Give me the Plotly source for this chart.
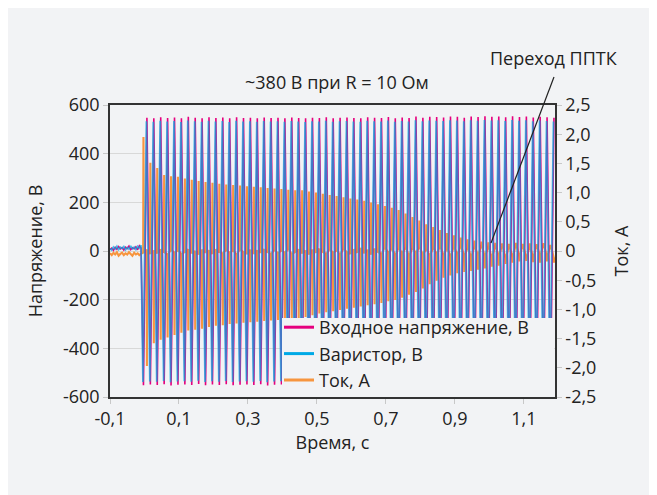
import plotly.graph_objects as go

# ---------------- data ----------------
# pre-trigger noise, t < 0
pre_t = [-0.100, -0.095, -0.090, -0.085, -0.080, -0.075, -0.070, -0.065, -0.060, -0.055,
         -0.050, -0.045, -0.040, -0.035, -0.030, -0.025, -0.020, -0.015, -0.010]
pre_input = [6, 12, 3, 15, 7, 18, 9, 14, 4, 16, 10, 20, 6, 13, 9, 17, 5, 21, 12]
pre_varistor = [10, 4, 16, 8, 19, 6, 15, 10, 18, 5, 14, 8, 21, 9, 16, 6, 19, 11, 24]
pre_current = [-0.04, -0.07, -0.03, -0.06, -0.02, -0.08, -0.05, -0.03, -0.07, -0.04,
               -0.06, -0.02, -0.05, -0.08, -0.03, -0.06, -0.04, -0.07, -0.05]

# half-cycle peak times (50 Hz -> every 10 ms), first half-cycle at ~ -3 ms
first_peak_t = -0.003
half_period = 0.010

# Input voltage peaks, V (alternating, starting negative)
input_peaks = [
    -552, 548, -549, 546, -551, 550, -548, 547, -553, 549,
    -550, 545, -549, 552, -551, 548, -547, 546, -552, 550,
    -549, 547, -551, 549, -548, 545, -552, 550, -550, 547,
    -549, 548, -551, 546, -548, 549, -553, 547, -550, 548,
    -549, 546, -551, 549, -548, 547, -552, 545, -550, 548,
    -549, 547, -551, 550, -548, 546, -552, 548, -550, 549,
    -548, 547, -551, 546, -549, 550, -552, 548, -550, 547,
    -549, 551, -548, 546, -552, 549, -550, 547, -551, 553,
    -549, 548, -550, 552, -548, 551, -553, 549, -551, 553,
    -549, 552, -550, 548, -552, 553, -549, 551, -550, 554,
    -551, 552, -549, 553, -552, 550, -550, 554, -553, 551,
    -551, 553, -550, 549, -554, 552, -556, 550, -565, 548,
]
# Varistor voltage peaks, V
varistor_peaks = [
    -538, 533, -536, 531, -537, 535, -534, 532, -539, 534,
    -536, 530, -535, 536, -537, 533, -533, 531, -538, 535,
    -535, 532, -537, 534, -534, 530, -538, 535, -536, 532,
    -535, 533, -537, 531, -534, 534, -539, 532, -536, 533,
    -535, 531, -537, 534, -534, 532, -538, 530, -536, 533,
    -535, 532, -537, 535, -534, 531, -538, 533, -536, 534,
    -534, 532, -537, 531, -535, 535, -538, 533, -536, 532,
    -535, 536, -534, 531, -538, 534, -536, 532, -537, 537,
    -535, 533, -536, 536, -534, 535, -539, 534, -537, 537,
    -535, 536, -536, 533, -538, 537, -535, 535, -536, 538,
    -537, 536, -535, 537, -538, 534, -536, 538, -539, 535,
    -537, 537, -536, 533, -540, 536, -542, 534, -548, 532,
]
# Current peaks, A (one spike per half-cycle, starting positive)
current_peaks = [
    1.95, -1.97, 1.51, -1.58, 1.42, -1.52, 1.30, -1.48, 1.28, -1.44,
    1.27, -1.40, 1.24, -1.36, 1.22, -1.35, 1.20, -1.33, 1.18, -1.30,
    1.17, -1.28, 1.15, -1.27, 1.14, -1.25, 1.13, -1.24, 1.12, -1.23,
    1.11, -1.22, 1.10, -1.21, 1.09, -1.20, 1.08, -1.19, 1.07, -1.18,
    1.06, -1.18, 1.05, -1.17, 1.04, -1.15, 1.04, -1.13, 1.02, -1.10,
    1.00, -1.07, 0.98, -1.05, 0.96, -1.03, 0.94, -1.01, 0.92, -0.99,
    0.90, -0.97, 0.88, -0.95, 0.86, -0.93, 0.83, -0.91, 0.80, -0.89,
    0.77, -0.86, 0.74, -0.84, 0.70, -0.80, 0.64, -0.75, 0.58, -0.70,
    0.52, -0.64, 0.46, -0.57, 0.41, -0.51, 0.36, -0.46, 0.31, -0.42,
    0.27, -0.38, 0.23, -0.36, 0.20, -0.34, 0.18, -0.32, 0.16, -0.30,
    0.15, -0.27, 0.14, -0.25, 0.13, -0.22, 0.12, -0.20, 0.14, -0.18,
    0.12, -0.17, 0.13, -0.19, 0.11, -0.20, 0.12, -0.18, 0.10, -0.20,
]
# Current baseline between spikes, A
current_base = [
    -0.03, 0.02, -0.05, 0.01, -0.04, 0.03, -0.02, -0.06, 0.02, -0.03,
    0.01, -0.05, -0.02, 0.03, -0.04, 0.00, -0.06, 0.02, -0.03, 0.01,
    -0.05, 0.03, -0.02, -0.04, 0.02, -0.03, 0.01, -0.06, 0.03, -0.02,
    -0.04, 0.02, -0.05, 0.01, -0.03, 0.03, -0.02, -0.05, 0.02, -0.04,
    0.01, -0.03, 0.04, -0.05, -0.02, 0.03, -0.04, 0.01, -0.06, 0.02,
    -0.03, 0.04, -0.02, -0.05, 0.03, -0.03, 0.01, -0.06, 0.04, -0.02,
    -0.05, 0.03, -0.03, 0.05, -0.04, 0.02, -0.06, 0.04, -0.02, -0.05,
    0.06, -0.03, 0.04, -0.07, 0.05, -0.04, 0.06, -0.08, 0.05, -0.03,
    0.07, -0.06, 0.04, -0.08, 0.06, -0.05, 0.08, -0.07, 0.05, -0.09,
    0.07, -0.06, 0.09, -0.08, 0.06, -0.10, 0.08, -0.07, 0.10, -0.09,
    0.08, -0.11, 0.09, -0.08, 0.10, -0.12, 0.09, -0.10, 0.11, -0.09,
    0.10, -0.12, 0.08, -0.11, 0.10, -0.09, 0.12, -0.10, 0.09, -0.11,
]

x_ticks = [-0.1, 0.1, 0.3, 0.5, 0.7, 0.9, 1.1]
x_ticktext = ["-0,1", "0,1", "0,3", "0,5", "0,7", "0,9", "1,1"]
v_ticks = [-600, -400, -200, 0, 200, 400, 600]
v_ticktext = ["-600", "-400", "-200", "0", "200", "400", "600"]
i_ticks = [-2.5, -2.0, -1.5, -1.0, -0.5, 0, 0.5, 1.0, 1.5, 2.0, 2.5]
i_ticktext = ["-2,5", "-2,0", "-1,5", "-1,0", "-0,5", "0", "0,5", "1,0", "1,5", "2,0", "2,5"]

names = ["Входное напряжение, В", "Варистор, В", "Ток, А"]
title_text = "~380 В при R = 10 Ом"
note_text = "Переход ППТК"
x_title = "Время, с"
v_title = "Напряжение, В"
i_title = "Ток, А"

# ---------------- build traces ----------------
peak_t = [first_peak_t + half_period * k for k in range(len(input_peaks))]
spike_halfwidth = 0.0009   # current pulses are very narrow
varistor_lag = -0.0015     # small visual offset between the two voltage records

v_x = pre_t + peak_t
vvar_x = pre_t + [t + varistor_lag for t in peak_t]
vin_y = pre_input + input_peaks
vvar_y = pre_varistor + varistor_peaks

c_x = list(pre_t)
c_y = list(pre_current)
for t, p, b in zip(peak_t, current_peaks, current_base):
    c_x += [t - spike_halfwidth, t, t + spike_halfwidth]
    c_y += [b, p, b]

FONT = "Open Sans"
BG = "#f2f3f5"
MAGENTA = "#e5007e"
CYAN = "#00a9e6"
ORANGE = "#f7953f"
TXT = "#222222"
colors = [MAGENTA, CYAN, ORANGE]

fig = go.Figure()
# current on the base axis (right side) so that voltages are drawn over it
fig.add_trace(go.Scatter(x=c_x, y=c_y, mode="lines", name=names[2], yaxis="y",
                         showlegend=False, line=dict(color=ORANGE, width=2.1)))
fig.add_trace(go.Scatter(x=v_x, y=vin_y, mode="lines", name=names[0], yaxis="y2",
                         showlegend=False, line=dict(color=MAGENTA, width=1.6)))
fig.add_trace(go.Scatter(x=vvar_x, y=vvar_y, mode="lines", name=names[1], yaxis="y2",
                         showlegend=False, line=dict(color="rgba(0,169,230,0.7)", width=1.8)))
# legend entries (no data, only the key)
for n, c in zip(names, colors):
    fig.add_trace(go.Scatter(x=[None], y=[None], mode="lines", name=n,
                             line=dict(color=c, width=3)))

# page is shown with an 8 px body margin
OFF = 8
W, H = 657 - OFF, 495 - OFF
L, T = 110 - OFF, 105 - OFF
pw, ph = 445, 292
R, B = W - L - pw, H - T - ph


def px(xp):   # page x -> paper x
    return (xp - OFF - L) / pw


def py(yp):   # page y -> paper y
    return (T + ph - (yp - OFF)) / ph


fig.update_layout(
    width=W, height=H,
    margin=dict(l=L, r=R, t=T, b=B, pad=0),
    paper_bgcolor=BG, plot_bgcolor=BG,
    font=dict(family=FONT, size=18, color=TXT),
    showlegend=True,
    legend=dict(x=px(279), y=py(399), xanchor="left", yanchor="bottom",
                bgcolor="rgba(0,0,0,0)", borderwidth=0,
                font=dict(size=18, color=TXT),
                tracegroupgap=0, itemwidth=30),
    xaxis=dict(range=[-0.1, 1.19], tickvals=x_ticks, ticktext=x_ticktext,
               showgrid=False, zeroline=False, showline=True, linecolor="#333",
               linewidth=1.5, mirror=True, ticks="outside", ticklen=5,
               tickcolor="#c8c8c8", tickfont=dict(size=18),
               title=dict(text=x_title, font=dict(size=18), standoff=6)),
    yaxis=dict(range=[-2.5, 2.5], tickvals=i_ticks, ticktext=i_ticktext,
               side="right", showgrid=False, zeroline=False,
               showline=True, linecolor="#333", linewidth=1.5,
               ticks="outside", ticklen=5, tickcolor="#c8c8c8",
               tickfont=dict(size=18),
               title=dict(text=i_title, font=dict(size=18), standoff=20)),
    yaxis2=dict(range=[-600, 600], tickvals=v_ticks, ticktext=v_ticktext,
                overlaying="y", side="left",
                showgrid=True, gridcolor="#d8d8d8", gridwidth=1, zeroline=False,
                showline=True, linecolor="#333", linewidth=1.5,
                ticks="outside", ticklen=5, tickcolor="#c8c8c8",
                tickfont=dict(size=18),
                title=dict(text=v_title, font=dict(size=18), standoff=16)),
    shapes=[
        # legend panel
        dict(type="rect", xref="paper", yref="paper", layer="above",
             x0=px(282), x1=px(554), y0=py(396), y1=py(318),
             fillcolor=BG, line=dict(width=0)),
        # pointer line of the note
        dict(type="line", xref="paper", yref="paper",
             x0=px(554), y0=py(77), x1=px(491), y1=py(243),
             line=dict(color=TXT, width=1.2)),
    ],
    annotations=[
        dict(text=title_text, xref="paper", yref="paper",
             x=px(337), y=py(82), showarrow=False,
             xanchor="center", yanchor="middle", font=dict(size=18, color=TXT)),
        dict(text=note_text, xref="paper", yref="paper",
             x=px(553), y=py(58), showarrow=False,
             xanchor="center", yanchor="middle", font=dict(size=18, color=TXT)),
    ],
)

fig.write_html("out.html")
